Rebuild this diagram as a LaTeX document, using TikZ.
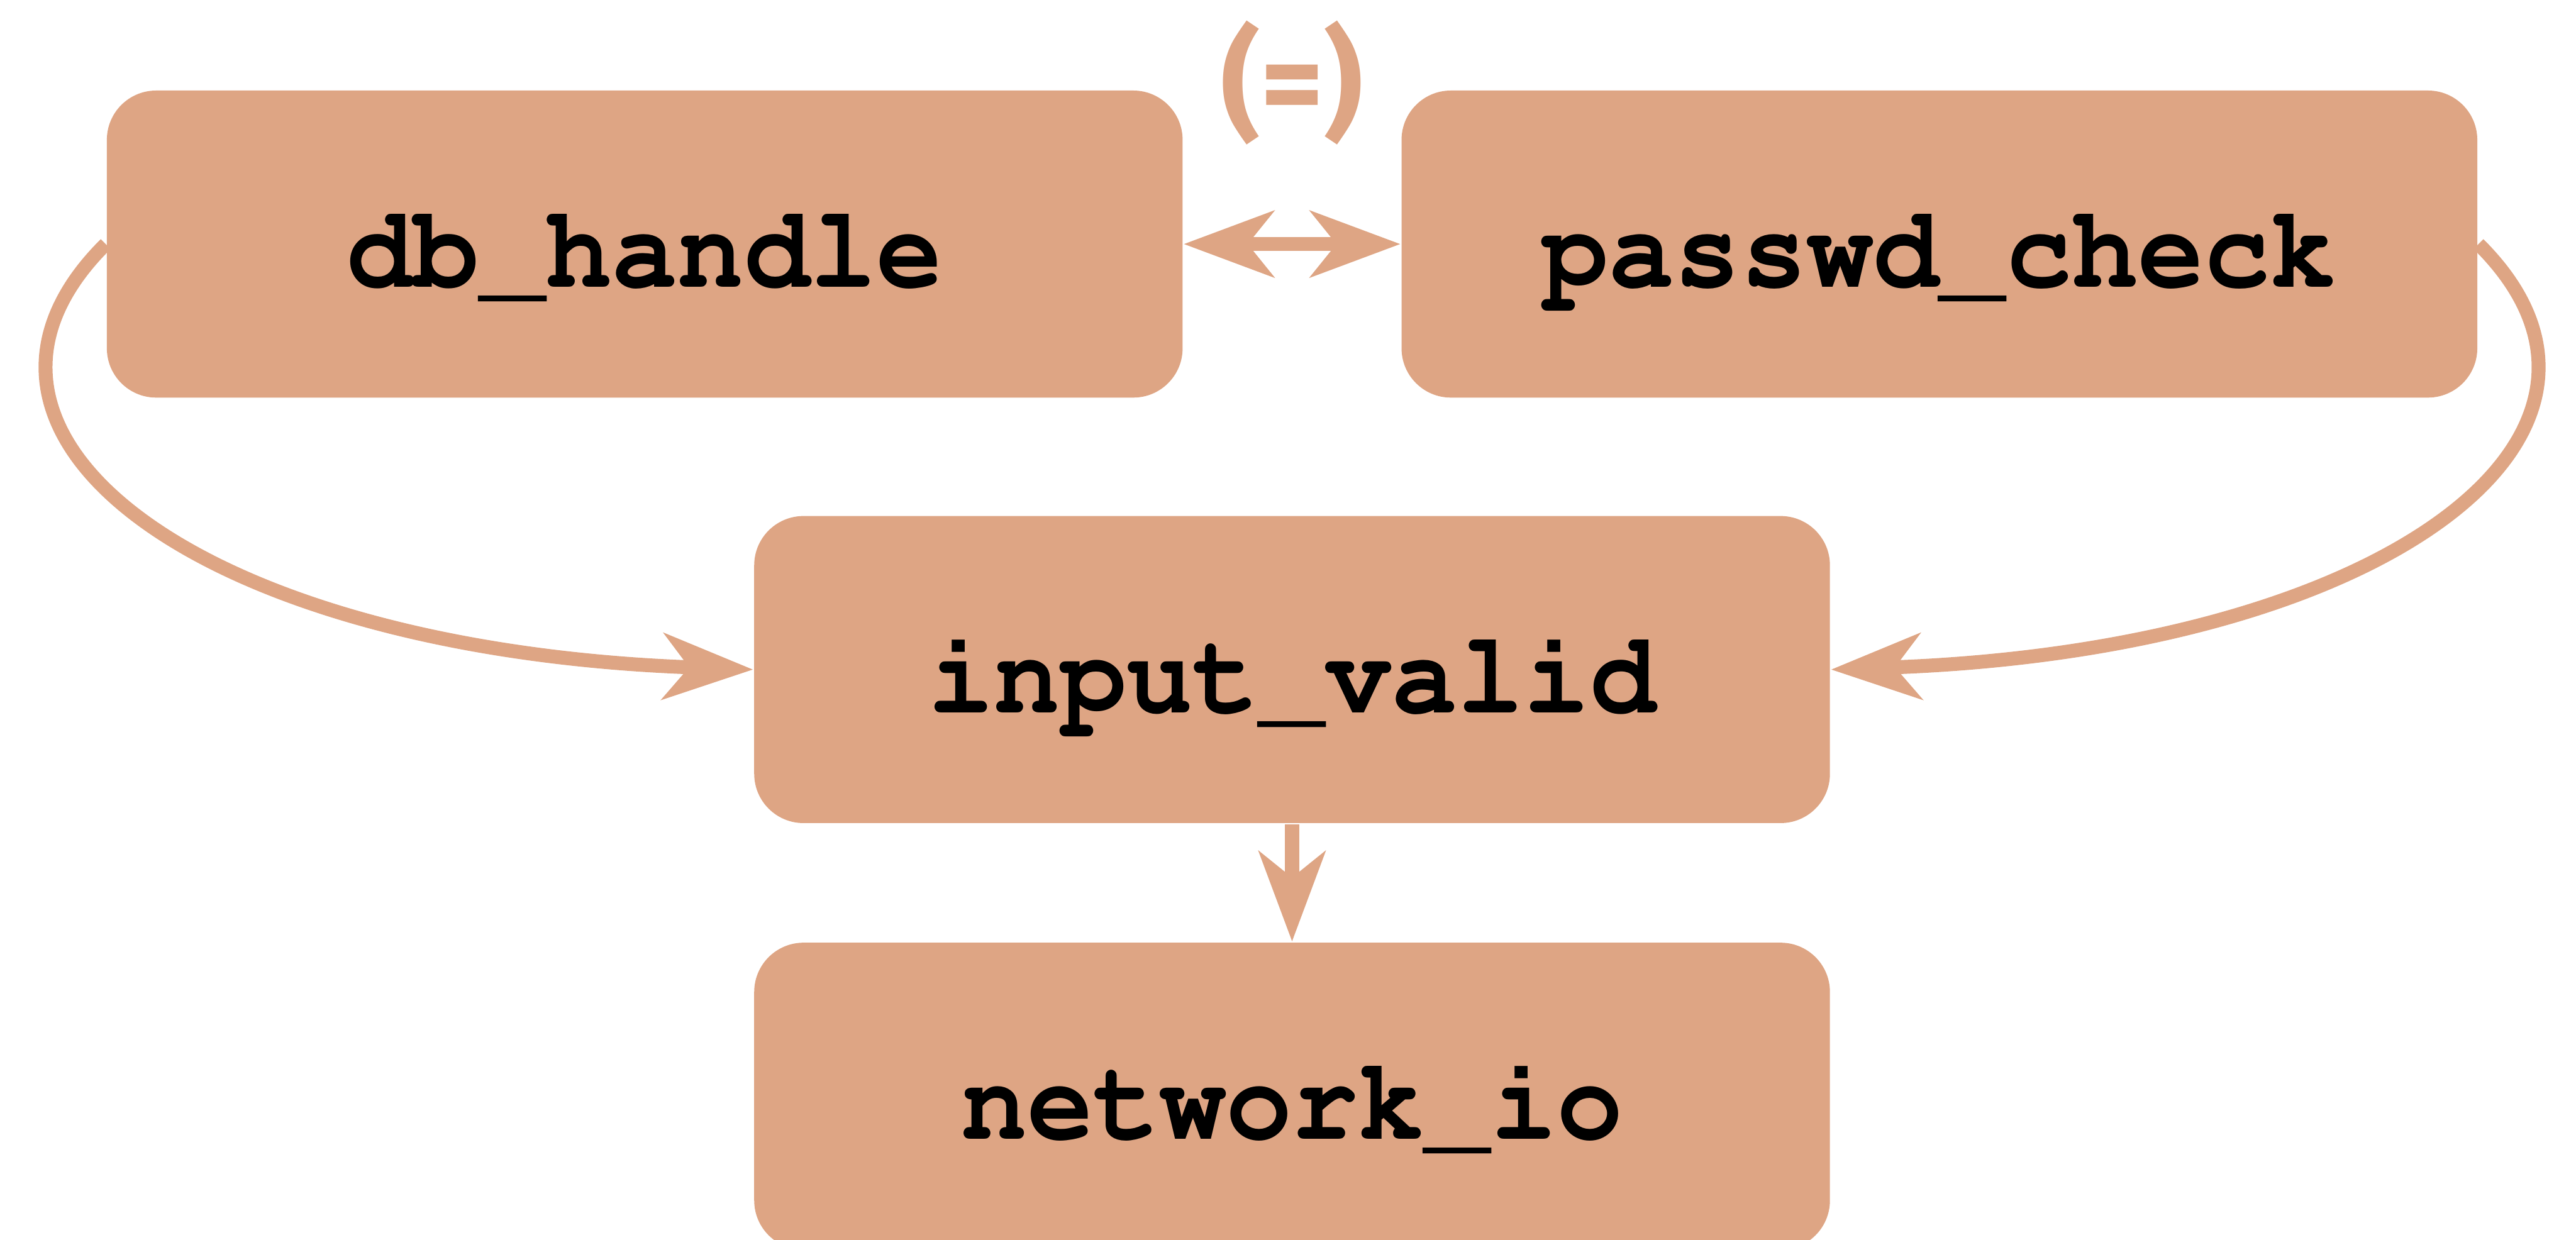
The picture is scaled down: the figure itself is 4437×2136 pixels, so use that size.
\documentclass[tikz,border=0pt]{standalone}
\usepackage[T1]{fontenc}
\usepackage{fontspec}
\usetikzlibrary{arrows.meta}
\newfontfamily\eqfont{Fira Sans}
\newcommand{\cursorfont}{\fontencoding{T1}\fontfamily{pcr}\fontseries{b}\selectfont}
\newcommand{\boxlabel}[1]{\scalebox{1}[1.06]{#1}}
\definecolor{rust}{HTML}{DEA584}
\tikzset{
  box/.style={rectangle, rounded corners=8.5pt, fill=rust, draw=none,
    minimum width=185.3pt, minimum height=52.9pt, inner sep=0pt,
    text height=14.8pt, text depth=0pt,
    font=\cursorfont\fontsize{19}{19}\selectfont},
  tip/.tip={Stealth[length=15.5pt,width=11.4pt,inset=4.5pt]},
  conn/.style={draw=rust, line width=2.4pt, -tip},
  dconn/.style={draw=rust, line width=2.4pt, tip-tip}
}
\begin{document}
\begin{tikzpicture}[x=0.1pt,y=-0.1pt]
\useasboundingbox (0,0) rectangle (4437,2136);
\node[box] (db) at (1110.5,420.5) {\boxlabel{db\_handle}};
\node[box] (pw) at (3340.5,420.5) {\boxlabel{passwd\_check}};
\node[box] (iv) at (2225.5,1153.5) {\boxlabel{input\_valid}};
\node[box] (nw) at (2225.5,1888.5) {\boxlabel{network\_io}};
\node[text=rust, inner sep=0pt, font=\eqfont\bfseries\fontsize{21}{21}\selectfont] (eq) at (2225.5,143) {(=)};
\draw[dconn] (db.east) -- (pw.west);
\draw[conn] (db.west) .. controls (-150,750) and (350,1120) .. (iv.west);
\draw[conn] (pw.east) .. controls (4601,750) and (4101,1120) .. (iv.east);
\draw[conn] (iv.south) -- (nw.north);
\end{tikzpicture}
\end{document}
